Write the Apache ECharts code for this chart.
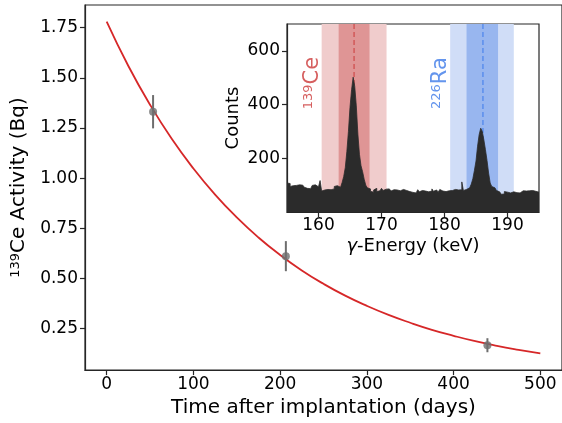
<!DOCTYPE html>
<html><head><meta charset="utf-8">
<script src="https://cdn.jsdelivr.net/npm/echarts@6/dist/echarts.min.js"></script>
<style>html,body{margin:0;padding:0;background:#fff}#c{width:562px;height:423px}</style>
</head><body><div id="c"></div>
<script>
// ---- main panel data ----
const decayDays = [0,25,50,75,100,125,150,175,200,225,250,275,300,325,350,375,400,425,450,475,500];
const decayFit  = [1.780,1.559,1.366,1.196,1.048,0.918,0.804,0.704,0.617,0.540,0.473,0.414,0.363,0.318,0.279,0.244,0.214,0.187,0.164,0.144,0.126];
const measDays     = [53.5, 206.6, 439.0];
const measActivity = [1.331, 0.611, 0.167];
const measError    = [0.083, 0.075, 0.035];
const timeTicks = [0,100,200,300,400,500];
const activityTicks = [0.25,0.50,0.75,1.00,1.25,1.50,1.75];

// ---- inset spectrum data ----
const histStart = 155;
const histBinWidth = 0.25;
const histCounts = [
 108,106,95,98,94,99,104,101,106,100,103,92,88,91,87,90,99,101,97,94,92,
 117,
 78,82,79,84,80,83,78,86,95,98,94,
 92,98,110,
 132,165,225,300,390,455,502,468,395,290,215,172,150,122,100,90,
 86,77,74,82,88,76,79,77,88,80,85,91,
 86,89,78,83,76,82,86,79,81,84,77,80,
 84,76,81,73,79,71,77,83,75,80,86,78,
 82,75,81,78,86,77,82,79,74,84,78,81,
 76,83,79,85,
 80,77,84,79,82,78,83,
 112,
 80,84,86,90,94,104,124,155,190,245,288,312,300,268,232,192,145,108,95,90,87,80,75,70,66,67,76,
 74,79,71,78,75,80,72,78,71,77,79,73,78,72,79,75,80,73,77,79,74
];
const energyTicks = [160,170,180,190];
const countTicks = [200,400,600];
const ceWindow = [160.5, 170.8];
const ceCore   = [163.2, 168.1];
const ceLine   = 165.65;
const raWindow = [180.9, 191.0];
const raCore   = [183.5, 188.5];
const raLine   = 186.1;
const ceLabelAt = [159.05, 480];
const raLabelAt = [179.4, 480];

// ---- styling ----
const FONT = 'DejaVu Sans';
const AX = '#262626';
const bandColors = ['#f0cccc', '#df9595', '#d0ddf7', '#98b6ef'];
const lineColors = ['#d46262', '#6495ed'];

const curveData = decayDays.map((d, i) => [d, decayFit[i]]);
const pointData = measDays.map((d, i) => [d, measActivity[i], measError[i]]);
const histData = histCounts.map((c, i) => [histStart + i * histBinWidth, c]);
histData.push([histStart + histCounts.length * histBinWidth, histCounts[histCounts.length - 1]]);
const bandData = [[ceWindow[0], ceWindow[1], 0], [ceCore[0], ceCore[1], 1], [raWindow[0], raWindow[1], 2], [raCore[0], raCore[1], 3]];
const lineData = [[ceLine, 0], [raLine, 1]];

function axisCommon(ticks, fmt, fs, margin) {
  return {
    axisLine: { show: true, onZero: false, lineStyle: { color: AX, width: 1.2 } },
    axisTick: { show: true, customValues: ticks, length: 5, lineStyle: { color: AX, width: 1.2 } },
    axisLabel: { customValues: ticks, formatter: fmt, fontSize: fs, color: '#000', fontFamily: FONT, margin: margin },
    splitLine: { show: false }
  };
}

const chart = echarts.init(document.getElementById('c'), null, { renderer: 'canvas' });
chart.setOption({
  animation: false,
  backgroundColor: '#fff',
  textStyle: { fontFamily: FONT },
  grid: [
    { left: 85, top: 5, width: 479, height: 366, show: true, borderColor: AX, borderWidth: 1.2, backgroundColor: '#fff', containLabel: false },
    { left: 287, top: 24, width: 252, height: 188, show: true, borderColor: AX, borderWidth: 1.2, backgroundColor: '#fff', containLabel: false, z: 5 }
  ],
  xAxis: [
    Object.assign({ type: 'value', gridIndex: 0, min: -25, max: 525,
      name: 'Time after implantation (days)', nameLocation: 'middle', nameGap: 27,
      nameTextStyle: { fontSize: 20, color: '#000', fontFamily: FONT } },
      axisCommon(timeTicks, v => String(v), 17, 6)),
    Object.assign({ type: 'value', gridIndex: 1, min: 155, max: 195, z: 6,
      name: '{g|γ}-Energy (keV)', nameLocation: 'middle', nameGap: 25,
      nameTextStyle: { fontSize: 18, color: '#000', fontFamily: FONT, rich: { g: { fontSize: 18, fontStyle: 'italic', color: '#000', fontFamily: FONT } } } },
      axisCommon(energyTicks, v => String(v), 17, 5))
  ],
  yAxis: [
    Object.assign({ type: 'value', gridIndex: 0, min: 0.043, max: 1.863,
      name: '{s|139}{m|Ce Activity (Bq)}', nameLocation: 'middle', nameGap: 47, nameRotate: 90,
      nameTextStyle: { color: '#000', fontFamily: FONT, fontSize: 20,
        rich: { s: { fontSize: 13, verticalAlign: 'top', color: '#000', fontFamily: FONT }, m: { fontSize: 20, color: '#000', fontFamily: FONT } } } },
      axisCommon(activityTicks, v => v.toFixed(2), 17, 7)),
    Object.assign({ type: 'value', gridIndex: 1, min: 0, max: 700, z: 6,
      name: 'Counts', nameLocation: 'middle', nameGap: 45, nameRotate: 90,
      nameTextStyle: { fontSize: 18, color: '#000', fontFamily: FONT } },
      axisCommon(countTicks, v => String(v), 17, 7))
  ],
  series: [
    { type: 'line', xAxisIndex: 0, yAxisIndex: 0, data: curveData, smooth: true, symbol: 'none',
      lineStyle: { color: '#d62728', width: 1.8 }, z: 2 },
    { type: 'custom', xAxisIndex: 0, yAxisIndex: 0, data: pointData, encode: { x: 0, y: 1 }, z: 3,
      renderItem: function (params, api) {
        const x = api.value(0), y = api.value(1), e = api.value(2);
        const a = api.coord([x, y - e]), b = api.coord([x, y + e]);
        return { type: 'line', shape: { x1: a[0], y1: a[1], x2: b[0], y2: b[1] }, style: { stroke: '#6e6e6e', lineWidth: 2 } };
      } },
    { type: 'scatter', xAxisIndex: 0, yAxisIndex: 0, data: pointData.map(p => [p[0], p[1]]), symbol: 'circle', symbolSize: 8,
      itemStyle: { color: '#6e6e6e' }, z: 4 },
    { type: 'custom', xAxisIndex: 1, yAxisIndex: 1, data: bandData, encode: { x: [0, 1] }, z: 6,
      renderItem: function (params, api) {
        const cs = params.coordSys;
        const a = api.coord([api.value(0), 0]), b = api.coord([api.value(1), 0]);
        return { type: 'rect', shape: { x: a[0], y: cs.y, width: b[0] - a[0], height: cs.height },
          style: { fill: bandColors[api.value(2)] } };
      } },
    { type: 'custom', xAxisIndex: 1, yAxisIndex: 1, data: lineData, encode: { x: 0 }, z: 7,
      renderItem: function (params, api) {
        const cs = params.coordSys;
        const a = api.coord([api.value(0), 0]);
        return { type: 'line', shape: { x1: a[0], y1: cs.y, x2: a[0], y2: cs.y + cs.height },
          style: { stroke: lineColors[api.value(1)], lineWidth: 1.8, lineDash: [5, 3] } };
      } },
    { type: 'line', xAxisIndex: 1, yAxisIndex: 1, data: histData, step: 'end', symbol: 'none', z: 8,
      lineStyle: { color: '#2b2b2b', width: 0.8 }, areaStyle: { color: '#2b2b2b', opacity: 1 } }
  ]
});

const pCe = chart.convertToPixel({ xAxisIndex: 1, yAxisIndex: 1 }, ceLabelAt);
const pRa = chart.convertToPixel({ xAxisIndex: 1, yAxisIndex: 1 }, raLabelAt);
function isoLabel(p, mass, sym, color) {
  return { type: 'text', x: p[0], y: p[1], rotation: Math.PI / 2, z: 100,
    style: { text: '{s|' + mass + '}{m|' + sym + '}', align: 'center', verticalAlign: 'middle', fill: color,
      rich: { s: { fontSize: 13, fill: color, fontFamily: FONT, verticalAlign: 'top' },
              m: { fontSize: 21, fill: color, fontFamily: FONT } } } };
}
chart.setOption({ graphic: [isoLabel(pCe, '139', 'Ce', '#d65f5f'), isoLabel(pRa, '226', 'Ra', '#6495ed')] });
</script></body></html>
